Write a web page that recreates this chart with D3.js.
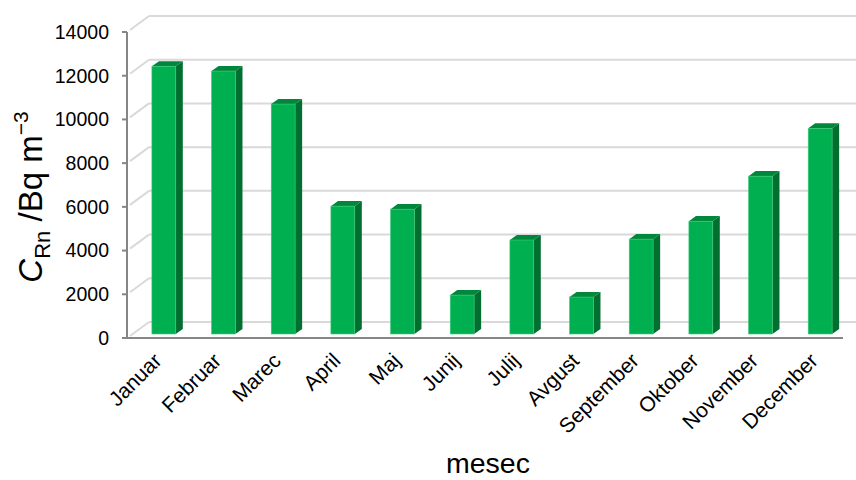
<!DOCTYPE html>
<html><head><meta charset="utf-8">
<script src="https://cdn.jsdelivr.net/npm/d3@7"></script>
<style>body{margin:0;background:#fff}svg{display:block;font-family:"Liberation Sans",Arial,sans-serif}</style>
</head><body><svg id="c" width="856" height="480"></svg>
<script>
const months = ["Januar","Februar","Marec","April","Maj","Junij","Julij","Avgust","September","Oktober","November","December"];
const radon = [12250,12030,10520,5850,5710,1780,4300,1690,4340,5160,7220,9410];
const yTicks = [0,2000,4000,6000,8000,10000,12000,14000];

const svg = d3.select("#c");
const L = 127, R = 843, B = 338, T = 32;
const DX = 22, DY = -16;            // full depth of the 3D box
const f0 = 0.25, f1 = 0.57;         // bar front/back depth fractions

const x = d3.scaleBand().domain(months).range([L, R]).paddingInner(0.6).paddingOuter(0.3);
const y = d3.scaleLinear().domain([0, 14000]).range([B, T]);

// back wall gridlines + side wall diagonals
const grid = svg.append("g");
yTicks.forEach(t => {
  grid.append("line").attr("x1", L + DX).attr("x2", R + DX).attr("y1", y(t) + DY).attr("y2", y(t) + DY)
    .attr("stroke", "#d9d9d9").attr("stroke-width", 2);
  grid.append("line").attr("x1", L + 3).attr("x2", L + DX).attr("y1", y(t) - 2).attr("y2", y(t) + DY)
    .attr("stroke", "#d9d9d9").attr("stroke-width", 2);
});

// bars
const bars = svg.append("g");
months.forEach((m, i) => {
  const v = radon[i];
  const ox = DX * f0 + 1.5, oy = DY * f0;
  const ddx = DX * (f1 - f0), ddy = DY * (f1 - f0);
  const x0 = x(m) + ox, x1 = x0 + x.bandwidth();
  const yb = y(0) + oy, yt = y(v) + oy;
  bars.append("path").attr("d", `M${x1},${yt}L${x1 + ddx},${yt + ddy}L${x1 + ddx},${yb + ddy}L${x1},${yb}Z`)
    .attr("fill", "#006f30");
  bars.append("path").attr("d", `M${x0},${yt}L${x0 + ddx},${yt + ddy}L${x1 + ddx},${yt + ddy}L${x1},${yt}Z`)
    .attr("fill", "#00873b");
  bars.append("rect").attr("x", x0).attr("y", yt).attr("width", x.bandwidth()).attr("height", yb - yt)
    .attr("fill", "#00b050").attr("stroke", "#3cc878").attr("stroke-width", 0.6);
});

// axes
const ax = svg.append("g");
ax.append("line").attr("x1", L).attr("x2", R).attr("y1", B).attr("y2", B).attr("stroke", "#868686").attr("stroke-width", 2);
ax.append("line").attr("x1", L).attr("x2", L).attr("y1", T).attr("y2", B + 1).attr("stroke", "#868686").attr("stroke-width", 2);
yTicks.forEach(t => {
  ax.append("line").attr("x1", L - 5).attr("x2", L).attr("y1", y(t)).attr("y2", y(t)).attr("stroke", "#868686").attr("stroke-width", 2);
  ax.append("text").attr("x", L - 18).attr("y", y(t)).attr("dy", "0.35em").attr("text-anchor", "end")
    .attr("font-size", 19.5).attr("fill", "#000").text(t);
});
months.forEach(m => {
  const cx = x(m) + x.bandwidth() / 2 + 6;
  ax.append("text").attr("transform", `translate(${cx},362) rotate(-45)`).attr("text-anchor", "end")
    .attr("font-size", 21).attr("fill", "#000").text(m);
});

// axis titles
svg.append("text").attr("x", 488).attr("y", 473).attr("text-anchor", "middle").attr("font-size", 28.5).text("mesec");
const yt = svg.append("text").attr("transform", "translate(42,197) rotate(-90)").attr("text-anchor", "middle").attr("font-size", 33);
yt.append("tspan").attr("font-style", "italic").text("C");
yt.append("tspan").attr("font-size", 22).attr("dy", 8).text("Rn");
yt.append("tspan").attr("dy", -8).text(" /Bq m");
yt.append("tspan").attr("font-size", 21).attr("dy", -14).text("−3");
</script></body></html>
